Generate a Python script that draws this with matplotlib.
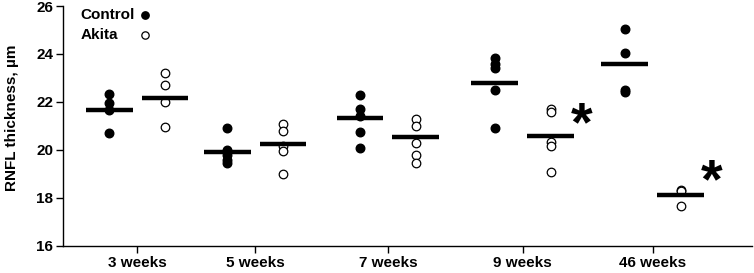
import matplotlib
matplotlib.use("Agg")
import matplotlib.pyplot as plt
import numpy as np

plt.rcParams['font.family'] = ['Liberation Sans', 'DejaVu Sans']
plt.rcParams['font.weight'] = 'bold'

categories = ["3 weeks", "5 weeks", "7 weeks", "9 weeks", "46 weeks"]
cat_pos = [0.0, 0.915, 1.946, 2.992, 4.0]

control = [
    [22.35, 21.95, 21.65, 20.7],
    [20.9, 20.0, 19.8, 19.6, 19.45],
    [22.3, 21.7, 21.4, 20.75, 20.1],
    [23.85, 23.6, 23.4, 22.5, 20.9],
    [25.05, 24.05, 22.5, 22.4],
]
akita = [
    [23.2, 22.7, 22.0, 20.95],
    [21.08, 20.8, 20.15, 19.97, 19.0],
    [21.3, 21.0, 20.3, 19.8, 19.45],
    [21.7, 21.57, 20.35, 20.15, 19.07],
    [18.35, 18.3, 17.65],
]
control_mean = [21.67, 19.92, 21.35, 22.8, 23.6]
akita_mean = [22.17, 20.25, 20.55, 20.58, 18.13]
significant = [False, False, False, True, True]
star_y = [None, None, None, 21.0, 18.6]

yticks = [16, 18, 20, 22, 24, 26]

fig = plt.figure(figsize=(7.54, 2.73), dpi=100)
ax = fig.add_axes([0.0836, 0.099, 0.9134, 0.879])

off = 0.217
hw = 0.182
for i, p in enumerate(cat_pos):
    xc = p - off
    xa = p + off
    ax.scatter([xc] * len(control[i]), control[i], s=38, color='black', zorder=3)
    ax.scatter([xa] * len(akita[i]), akita[i], s=38, facecolor='white',
               edgecolor='black', linewidth=0.9, zorder=3)
    ax.hlines(control_mean[i], xc - hw, xc + hw, color='black', linewidth=3.2, zorder=4)
    ax.hlines(akita_mean[i], xa - hw, xa + hw, color='black', linewidth=3.2, zorder=4)
    if significant[i]:
        ax.text(xa + 0.24, star_y[i], "*", fontsize=40, fontweight='bold',
                ha='center', va='center')

# legend
ax.text(-0.44, 25.64, "Control", fontsize=11, fontweight='bold', ha='left', va='center')
ax.text(-0.44, 24.8, "Akita", fontsize=11, fontweight='bold', ha='left', va='center')
ax.scatter([0.062], [25.64], s=28, color='black', clip_on=False)
ax.scatter([0.062], [24.8], s=28, facecolor='white', edgecolor='black', linewidth=0.9, clip_on=False)

ax.set_xlim(-0.574, 4.767)
ax.set_ylim(16, 26)
ax.set_yticks(yticks)
ax.set_yticklabels([str(t) for t in yticks], fontsize=11, fontweight='bold')
ax.set_xticks(cat_pos)
ax.set_xticklabels(categories, fontsize=11, fontweight='bold')
ax.set_ylabel("RNFL thickness, µm", fontsize=11, fontweight='bold')
ax.yaxis.set_label_coords(-0.064, 0.535)

for s in ['top', 'right']:
    ax.spines[s].set_visible(False)
for s in ['left', 'bottom']:
    ax.spines[s].set_linewidth(1.0)
ax.tick_params(axis='both', direction='out', length=5, width=1.0)
ax.tick_params(axis='x', pad=2)
ax.tick_params(axis='y', pad=2)

fig.savefig("out.png", dpi=100)
